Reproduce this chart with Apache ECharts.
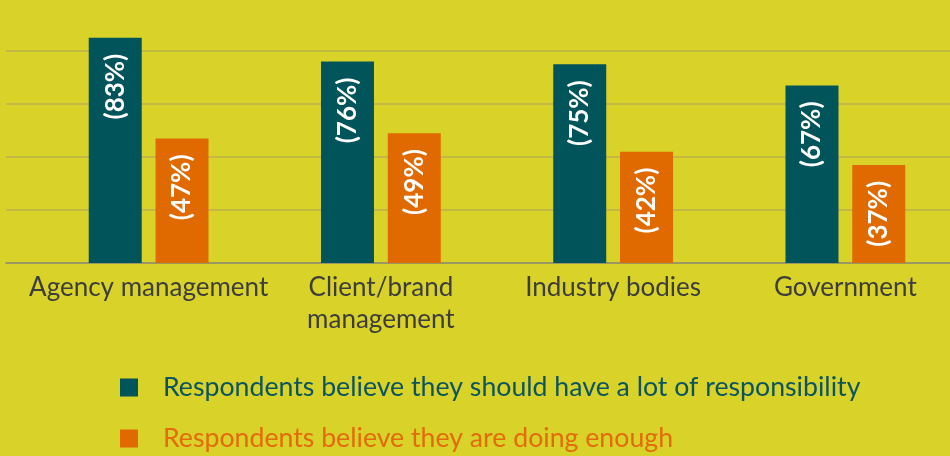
<!DOCTYPE html>
<html>
<head>
<meta charset="utf-8">
<script src="https://cdn.jsdelivr.net/npm/echarts@6/dist/echarts.min.js"></script>
<style>
html,body{margin:0;padding:0;background:#d9d229;}
#chart{width:950px;height:456px;}
</style>
</head>
<body>
<div id="chart"></div>
<script>
var categories = ['Agency management', 'Client/brand\nmanagement', 'Industry bodies', 'Government'];
var seriesNames = ['Respondents believe they should have a lot of responsibility', 'Respondents believe they are doing enough'];
var shouldHave = [85, 76, 75, 67];
var shouldHaveLabels = ['(83%)', '(76%)', '(75%)', '(67%)'];
var doingEnough = [47, 49, 42, 37];
var doingEnoughLabels = ['(47%)', '(49%)', '(42%)', '(37%)'];
var yTicks = [0, 20, 40, 60, 80, 100];

var FONT = 'Lato';
var TEAL = '#01545a';
var ORANGE = '#e06a00';

function labelCfg(texts) {
  return {
    show: true,
    position: 'insideTop',
    rotate: 90,
    align: 'right',
    verticalAlign: 'middle',
    distance: 16,
    color: '#ffffff',
    fontFamily: FONT,
    fontSize: 26,
    fontWeight: 'bold',
    formatter: function (p) { return texts[p.dataIndex]; }
  };
}

function legendCfg(i, top, color) {
  return {
    orient: 'vertical',
    left: 120,
    top: top,
    padding: 0,
    itemWidth: 18,
    itemHeight: 18,
    icon: 'rect',
    textStyle: {fontFamily: FONT, fontSize: 26.7, color: color, padding: [0, 0, 0, 20]},
    data: [seriesNames[i]]
  };
}

var chart = echarts.init(document.getElementById('chart'), null, {renderer: 'canvas'});
chart.setOption({
  backgroundColor: '#d9d229',
  animation: false,
  grid: [
    {left: 32.5, width: 929, top: -2, height: 265, outerBoundsMode: 'none', containLabel: false},
    {left: 6, right: 0, top: -2, height: 265, outerBoundsMode: 'none', containLabel: false}
  ],
  xAxis: [
    {
      type: 'category', gridIndex: 0, data: categories,
      axisLine: {show: false}, axisTick: {show: false},
      axisLabel: {color: '#3d3d3d', fontFamily: FONT, fontSize: 26, lineHeight: 32, margin: 9, interval: 0}
    },
    {
      type: 'value', gridIndex: 1, min: 0, max: 1,
      axisLine: {show: true, lineStyle: {color: '#8e8c6c', width: 1.5}},
      axisTick: {show: false}, axisLabel: {show: false}, splitLine: {show: false}
    }
  ],
  yAxis: [
    {type: 'value', gridIndex: 0, min: yTicks[0], max: yTicks[yTicks.length - 1], interval: 20, show: false},
    {
      type: 'value', gridIndex: 1, min: yTicks[0], max: yTicks[yTicks.length - 1], interval: 20,
      axisLine: {show: false}, axisTick: {show: false}, axisLabel: {show: false},
      splitLine: {show: true, lineStyle: {color: '#b9b14e', width: 1.5}}
    }
  ],
  legend: [
    legendCfg(0, 374, '#0b5560'),
    legendCfg(1, 425, '#e26b0c')
  ],
  series: [
    {
      name: seriesNames[0], type: 'bar', xAxisIndex: 0, yAxisIndex: 0,
      data: shouldHave, barWidth: 53, barGap: '26%',
      itemStyle: {color: TEAL},
      label: labelCfg(shouldHaveLabels)
    },
    {
      name: seriesNames[1], type: 'bar', xAxisIndex: 0, yAxisIndex: 0,
      data: doingEnough, barWidth: 53, barGap: '26%',
      itemStyle: {color: ORANGE},
      label: labelCfg(doingEnoughLabels)
    }
  ]
});
</script>
</body>
</html>
